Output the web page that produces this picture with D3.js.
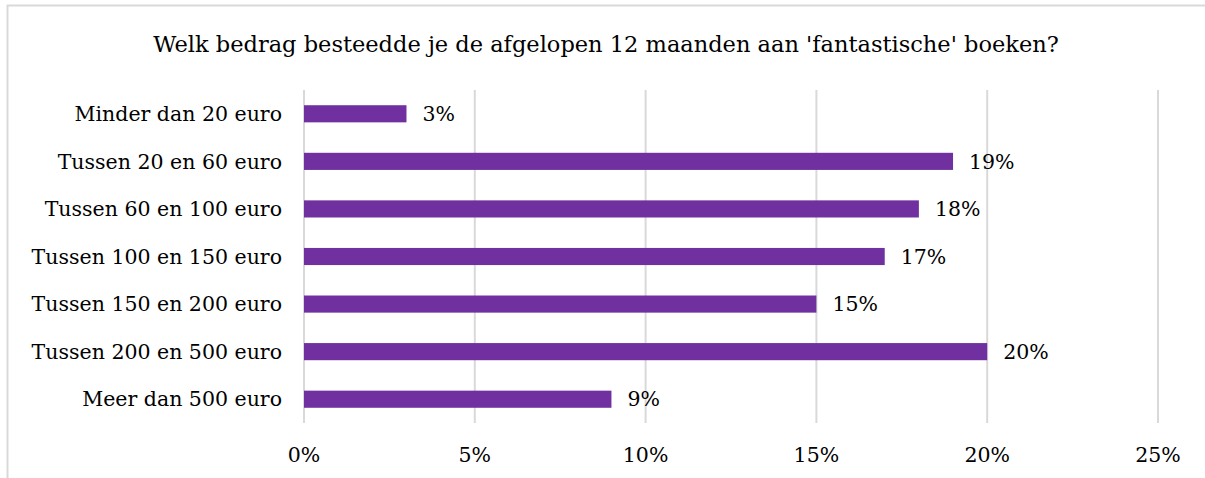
<!DOCTYPE html>
<html>
<head>
<meta charset="utf-8">
<script src="https://d3js.org/d3.v7.min.js"></script>
<style>
body { margin: 0; background: #fff; }
text { font-family: "DejaVu Serif", Georgia, serif; fill: #000; }
.grid line { stroke: #d9d9d9; stroke-width: 2px; }
</style>
</head>
<body>
<div id="chart"></div>
<script>
var title = "Welk bedrag besteedde je de afgelopen 12 maanden aan 'fantastische' boeken?";
var categories = ["Minder dan 20 euro", "Tussen 20 en 60 euro", "Tussen 60 en 100 euro",
  "Tussen 100 en 150 euro", "Tussen 150 en 200 euro", "Tussen 200 en 500 euro", "Meer dan 500 euro"];
var values = [3, 19, 18, 17, 15, 20, 9];
var ticks = [0, 5, 10, 15, 20, 25];

var W = 1205, H = 478;
var margin = {top: 90, right: 47, bottom: 55, left: 304};
var width = W - margin.left - margin.right,
    height = H - margin.top - margin.bottom;

var svg = d3.select("#chart").append("svg")
  .attr("width", W).attr("height", H);

// chart frame
svg.append("rect")
  .attr("x", 7.5).attr("y", 5.5)
  .attr("width", W + 20).attr("height", H + 20)
  .attr("fill", "none").attr("stroke", "#d9d9d9").attr("stroke-width", 2);

svg.append("text")
  .attr("x", 606).attr("y", 52)
  .attr("text-anchor", "middle")
  .style("font-size", "22.5px")
  .text(title);

var x = d3.scaleLinear().domain([0, 25]).range([0, width]);
var y = d3.scaleBand().domain(categories).range([0, height])
  .paddingInner(0.64).paddingOuter(0.32);

var g = svg.append("g").attr("transform", "translate(" + margin.left + "," + margin.top + ")");

g.append("g").attr("class", "grid")
  .selectAll("line").data(ticks).enter().append("line")
  .attr("x1", function(d) { return x(d); })
  .attr("x2", function(d) { return x(d); })
  .attr("y1", 0).attr("y2", height);

g.selectAll(".bar").data(values).enter().append("rect")
  .attr("class", "bar")
  .attr("x", x(0))
  .attr("y", function(d, i) { return y(categories[i]); })
  .attr("width", function(d) { return x(d) - x(0); })
  .attr("height", y.bandwidth())
  .attr("fill", "#7030a0");

g.selectAll(".label").data(values).enter().append("text")
  .attr("class", "label")
  .attr("x", function(d) { return x(d) + 16; })
  .attr("y", function(d, i) { return y(categories[i]) + y.bandwidth() / 2; })
  .attr("dy", "0.35em")
  .style("font-size", "20.5px")
  .text(function(d) { return d + "%"; });

g.selectAll(".cat").data(categories).enter().append("text")
  .attr("class", "cat")
  .attr("x", -22)
  .attr("y", function(d) { return y(d) + y.bandwidth() / 2; })
  .attr("dy", "0.35em")
  .attr("text-anchor", "end")
  .style("font-size", "20.5px")
  .text(function(d) { return d; });

g.selectAll(".tick-label").data(ticks).enter().append("text")
  .attr("class", "tick-label")
  .attr("x", function(d) { return x(d); })
  .attr("y", height + 32)
  .attr("dy", "0.35em")
  .attr("text-anchor", "middle")
  .style("font-size", "20.5px")
  .text(function(d) { return d + "%"; });
</script>
</body>
</html>
